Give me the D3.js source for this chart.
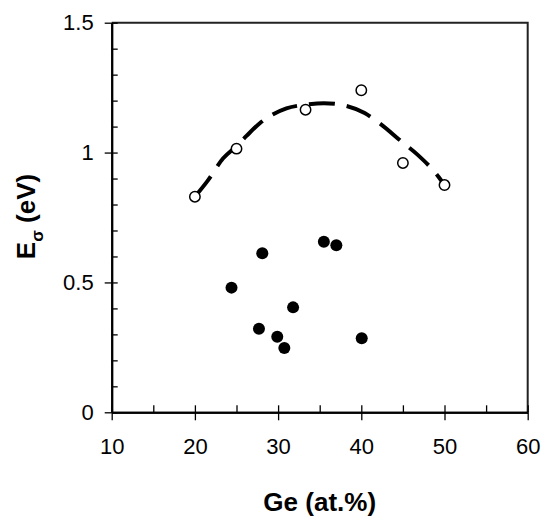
<!DOCTYPE html>
<html>
<head>
    <meta charset="utf-8">
    <title>E sigma vs Ge</title>
    <script src="https://d3js.org/d3.v7.min.js"></script>
    <style>
        body { margin: 0; background: #fff; }
        text { font-family: "Liberation Sans", Arial, sans-serif; }
    </style>
</head>
<body>
<div id="chart"></div>
<script type="text/javascript">

    // open circles (Ge at.%, E sigma in eV)
    let openGe = [20, 25, 33.3, 40, 45, 50];
    let openE  = [0.83, 1.015, 1.165, 1.24, 0.96, 0.875];

    // filled circles
    let filledGe = [24.4, 28.1, 35.5, 37.0, 31.8, 27.7, 29.9, 30.75, 40.05];
    let filledE  = [0.48, 0.612, 0.657, 0.643, 0.404, 0.322, 0.291, 0.248, 0.285];

    // dashed trend curve
    let curveGe = [20, 21.5, 23.4, 25, 26.2, 27.8, 31, 33.5, 35.5, 37.4, 40.4, 42.2, 44.85, 46.65, 49.25, 50];
    let curveE  = [0.83, 0.89, 0.978, 1.025, 1.064, 1.113, 1.17, 1.185, 1.19, 1.185, 1.152, 1.113, 1.042, 0.995, 0.908, 0.875];

    let xTicks = [10, 20, 30, 40, 50, 60];
    let xMinor = [15, 25, 35, 45, 55];
    let yTicks = [0, 0.5, 1, 1.5];
    let yMinor = [0.1, 0.2, 0.3, 0.4, 0.6, 0.7, 0.8, 0.9, 1.1, 1.2, 1.3, 1.4];

    let margin = {top: 22.7, right: 14.3, bottom: 107.7, left: 111.7};
    let w = 542 - margin.left - margin.right;
    let h = 520 - margin.top - margin.bottom;

    let svg = d3.select("#chart")
            .append("svg")
                .attr("width", 542)
                .attr("height", 520)
            .append("g")
                .attr("transform", "translate(" + margin.left + "," + margin.top + ")");

    let xScale = d3.scaleLinear().domain([10, 60]).range([0, w]);
    let yScale = d3.scaleLinear().domain([0, 1.5]).range([h, 0]);

    // frame: top and right
    svg.append("path")
        .attr("d", "M0,0H" + w + "V" + h)
        .attr("fill", "none")
        .attr("stroke", "#222")
        .attr("stroke-width", 2);

    function styleAxis(g) {
        g.select(".domain").attr("stroke", "#000").attr("stroke-width", 2);
        g.selectAll(".tick line").attr("stroke", "#000").attr("stroke-width", 1.3);
        g.selectAll("text").attr("font-size", "22px").attr("font-family", "Liberation Sans, Arial, sans-serif").attr("fill", "#000");
    }

    let fmt = function(d) { return String(d); };

    // x axis
    svg.append("g")
        .attr("transform", "translate(0," + h + ")")
        .call(d3.axisBottom(xScale).tickValues(xTicks).tickFormat(fmt).tickSize(8).tickPadding(18).tickSizeOuter(0))
        .call(styleAxis);
    svg.append("g")
        .attr("transform", "translate(0," + h + ")")
        .call(d3.axisBottom(xScale).tickValues(xTicks.concat(xMinor)).tickSize(-7).tickFormat("").tickSizeOuter(0))
        .call(styleAxis);

    // y axis
    svg.append("g")
        .call(d3.axisLeft(yScale).tickValues(yTicks).tickFormat(fmt).tickSize(7).tickPadding(11).tickSizeOuter(0))
        .call(styleAxis);
    svg.append("g")
        .call(d3.axisLeft(yScale).tickValues(yTicks.concat(yMinor)).tickSize(-6).tickFormat("").tickSizeOuter(0))
        .call(styleAxis);

    // dashed curve
    let line = d3.line()
        .x(function(d) { return xScale(d[0]); })
        .y(function(d) { return yScale(d[1]); })
        .curve(d3.curveMonotoneX);

    svg.append("path")
        .datum(d3.zip(curveGe, curveE))
        .attr("d", line)
        .attr("fill", "none")
        .attr("stroke", "#000")
        .attr("stroke-width", 4)
        .attr("stroke-dasharray", "26,12");

    // open circles
    svg.selectAll("circle.open")
        .data(d3.zip(openGe, openE))
        .enter()
        .append("circle")
        .attr("class", "open")
        .attr("cx", function(d) { return xScale(d[0]); })
        .attr("cy", function(d) { return yScale(d[1]); })
        .attr("r", 5.2)
        .attr("fill", "#fff")
        .attr("stroke", "#000")
        .attr("stroke-width", 1.5);

    // filled circles
    svg.selectAll("circle.filled")
        .data(d3.zip(filledGe, filledE))
        .enter()
        .append("circle")
        .attr("class", "filled")
        .attr("cx", function(d) { return xScale(d[0]); })
        .attr("cy", function(d) { return yScale(d[1]); })
        .attr("r", 6)
        .attr("fill", "#000");

    // x title
    svg.append("text")
        .attr("x", w / 2)
        .attr("y", h + 99)
        .attr("text-anchor", "middle")
        .attr("font-size", "26px")
        .attr("font-weight", "bold")
        .text("Ge (at.%)");

    // y title
    let yt = svg.append("text")
        .attr("transform", "translate(" + (35 - margin.left) + "," + (h / 2 - 1) + ") rotate(-90)")
        .attr("text-anchor", "middle")
        .attr("font-size", "26px")
        .attr("font-weight", "bold");
    yt.append("tspan").text("E");
    yt.append("tspan").attr("font-size", "17px").attr("dy", 8).text("σ");
    yt.append("tspan").attr("dy", -8).text(" (eV)");

</script>
</body>
</html>
